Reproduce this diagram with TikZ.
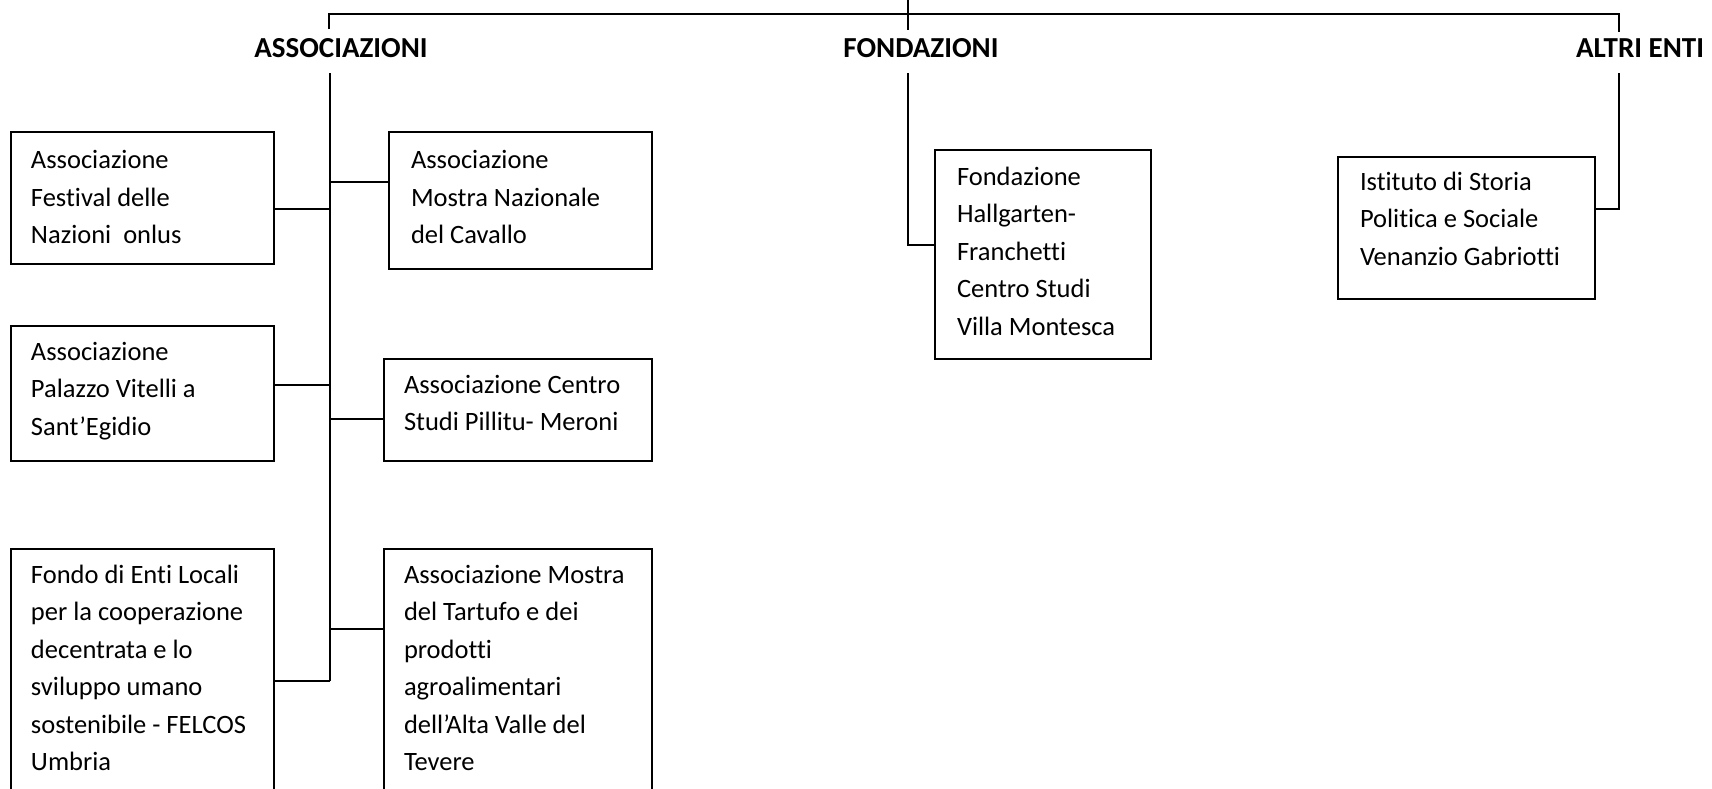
\documentclass[tikz,border=0pt]{standalone}
\usepackage{fontspec}
\setmainfont{Carlito}[Ligatures={NoCommon}]
\begin{document}
\begin{tikzpicture}[x=0.5pt,y=-0.5pt,
  line width=1pt,
  box/.style={draw, line width=1.1pt, rectangle, anchor=north west, inner sep=0pt},
  txt/.style={anchor=north west, inner sep=0pt, align=left, font=\fontsize{13.25}{18.75}\selectfont},
  head/.style={font=\fontsize{14.5}{17}\selectfont\bfseries, inner sep=0pt},
  link/.style={line width=1pt}]
\useasboundingbox (0,0) rectangle (1712,788);
\clip (0,0) rectangle (1712,788);

% headers
\node[head] (hA) at (341,48) {ASSOCIAZIONI};
\node[head] (hF) at (921,48) {FONDAZIONI};
\node[head] (hE) at (1640,48) {ALTRI ENTI};

% boxes
\node[box, minimum width=131.5pt, minimum height=66pt]   (L1) at (10,131) {};
\node[box, minimum width=131.5pt, minimum height=67.5pt] (L2) at (10,325) {};
\node[box, minimum width=131.5pt, minimum height=150pt]  (L3) at (10,548) {};
\node[box, minimum width=131.5pt, minimum height=68.5pt] (R1) at (388,131) {};
\node[box, minimum width=134pt,   minimum height=51pt]   (R2) at (383,358) {};
\node[box, minimum width=134pt,   minimum height=150pt]  (R3) at (383,548) {};
\node[box, minimum width=108pt,   minimum height=104.5pt] (F1) at (934,149) {};
\node[box, minimum width=128.5pt, minimum height=71pt]   (E1) at (1337,156) {};

% texts
\node[txt] (tL1) at (30,141.5) {\strut Associazione\\Festival delle\\Nazioni\ \ onlus};
\node[txt] (tL2) at (30,333) {\strut Associazione\\Palazzo Vitelli a\\Sant’Egidio};
\node[txt] (tL3) at (30,556) {\strut Fondo di Enti Locali\\per la cooperazione\\decentrata e lo\\sviluppo umano\\sostenibile - FELCOS\\Umbria};
\node[txt] (tR1) at (410,141.5) {\strut Associazione\\Mostra Nazionale\\del Cavallo};
\node[txt] (tR2) at (403,366) {\strut Associazione Centro\\Studi Pillitu- Meroni};
\node[txt] (tR3) at (403,556) {\strut Associazione Mostra\\del Tartufo e dei\\prodotti\\agroalimentari\\dell’Alta Valle del\\Tevere};
\node[txt] (tF1) at (956,158) {\strut Fondazione\\Hallgarten-\\Franchetti\\Centro Studi\\Villa Montesca};
\node[txt] (tE1) at (1359,163) {\strut Istituto di Storia\\Politica e Sociale\\Venanzio Gabriotti};

% top level
\coordinate (root) at (908,0);
\coordinate (rootEnd) at (908,30);
\coordinate (barL) at (329,14);
\coordinate (barR) at (1619,14);
\coordinate (dropA) at (329,29);
\coordinate (dropE) at (1619,32);
\draw[link] (root) -- (rootEnd);
\draw[link] (dropA) -- (barL) -- (barR) -- (dropE);

% associazioni trunk
\coordinate (aTop) at (330,73);
\coordinate (aBot) at (330,681);
\draw[link] (aTop) -- (aBot);
\coordinate (jL1) at (330,209);
\coordinate (jR1) at (330,182);
\coordinate (jL2) at (330,385);
\coordinate (jR2) at (330,419);
\coordinate (jR3) at (329,629);
\draw[link] (jL1) -- (jL1 -| L1.east);
\draw[link] (jR1) -- (jR1 -| R1.west);
\draw[link] (jL2) -- (jL2 -| L2.east);
\draw[link] (jR2) -- (jR2 -| R2.west);
\draw[link] (aBot) -- (aBot -| L3.east);
\draw[link] (jR3) -- (jR3 -| R3.west);

% fondazioni
\coordinate (fTop) at (908,73);
\coordinate (fBot) at (908,245);
\draw[link] (fTop) -- (fBot) -- (fBot -| F1.west);

% altri enti
\coordinate (eTop) at (1619,73);
\coordinate (eBot) at (1619,209);
\draw[link] (eTop) -- (eBot) -- (eBot -| E1.east);
\end{tikzpicture}
\end{document}
